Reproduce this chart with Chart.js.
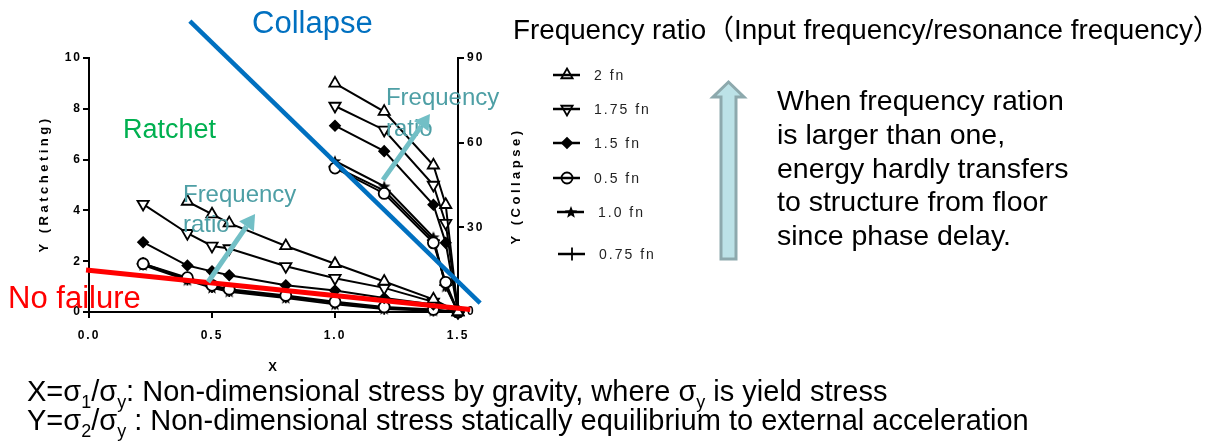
<!DOCTYPE html>
<html lang="en">
<head>
<meta charset="UTF-8">
<title>Ratcheting / Collapse</title>
<script src="https://cdn.jsdelivr.net/npm/chart.js@4"></script>
<style>
  body { margin: 0; background: #fff; }
  canvas { display: block; }
</style>
</head>
<body>
<canvas id="grafico" width="1212" height="445"></canvas>
<script>
// valores
const xRatchet = [0.22, 0.4, 0.5, 0.57, 0.8, 1.0, 1.2, 1.4, 1.5];
const xCollapse = [1.0, 1.2, 1.4, 1.45, 1.5];

const nomes = ['2 fn', '1.75 fn', '1.5 fn', '0.5 fn', '1.0 fn', '0.75 fn'];

// eixo esquerdo (Ratcheting, 0-10)
const ratchet2fn   = [null, 4.35, 3.85, 3.5, 2.6, 1.9, 1.2, 0.5, 0];
const ratchet175fn = [4.25, 3.1, 2.6, 2.5, 1.8, 1.33, 0.95, 0.4, 0];
const ratchet15fn  = [2.75, 1.83, 1.6, 1.45, 1.05, 0.85, 0.55, 0.3, 0];
const ratchet05fn  = [1.9, 1.35, 1.05, 0.9, 0.65, 0.4, 0.2, 0.1, 0];
const ratchet10fn  = [1.85, 1.25, 0.95, 0.8, 0.55, 0.3, 0.12, 0.05, 0];
const ratchet075fn = [1.9, 1.3, 1.0, 0.85, 0.6, 0.35, 0.15, 0.08, 0];

// eixo direito (Collapse, 0-90)
const collapse2fn   = [81, 71, 52, 38, 0];
const collapse175fn = [73, 64.5, 45, 31.5, 0];
const collapse15fn  = [66, 57, 38, 24.5, 0];
const collapse05fn  = [51, 42, 24.5, 10.5, 0];
const collapse10fn  = [53.5, 44.5, 26.5, 9, 0];
const collapse075fn = [51.5, 43, 25.5, 9.5, 0];

const xTicks = [0, 0.5, 1.0, 1.5];
const yTicks = [0, 2, 4, 6, 8, 10];
const y2Ticks = [0, 30, 60, 90];

// linhas de fronteira (coordenadas de dados)
const linhaCollapse = [{x: 0.41, y: 11.45}, {x: 1.59, y: 0.35}];
const linhaNoFailure = [{x: -0.012, y: 1.65}, {x: 1.55, y: 0.1}];

const ratchetSeries = [ratchet2fn, ratchet175fn, ratchet15fn, ratchet05fn, ratchet10fn, ratchet075fn];
const collapseSeries = [collapse2fn, collapse175fn, collapse15fn, collapse05fn, collapse10fn, collapse075fn];

// estrela preenchida para o 1.0 fn
const estrela = document.createElement('canvas');
estrela.width = 14; estrela.height = 14;
(function () {
    const c = estrela.getContext('2d');
    c.fillStyle = '#000';
    c.beginPath();
    for (let k = 0; k < 10; k++) {
        const r = k % 2 == 0 ? 6.5 : 2.8;
        const a = -Math.PI / 2 + k * Math.PI / 5;
        c.lineTo(7 + r * Math.cos(a), 7.5 + r * Math.sin(a));
    }
    c.closePath();
    c.fill();
})();

const marcadores = [
    { style: 'triangle', rot: 0, r: 6.5, fill: '#fff' },
    { style: 'triangle', rot: 180, r: 6.5, fill: '#fff' },
    { style: 'rectRot', rot: 0, r: 5, fill: '#000' },
    { style: 'circle', rot: 0, r: 5.5, fill: '#fff' },
    { style: estrela, rot: 0, r: 6, fill: '#000' },
    { style: 'cross', rot: 0, r: 6.5, fill: '#000' }
];

function pontos(xs, ys) {
    return xs.map((x, i) => ({ x: x, y: ys[i] })).filter(p => p.y !== null);
}

let datasets = [
    { label: 'Collapse', data: linhaCollapse, yAxisID: 'y', borderColor: '#0070C0', borderWidth: 4.5,
      pointRadius: 0, clip: false, order: -2 },
    { label: 'No failure', data: linhaNoFailure, yAxisID: 'y', borderColor: '#FF0000', borderWidth: 5,
      pointRadius: 0, clip: false, order: -2 }
];

for (let i = 0; i < nomes.length; i++) {
    const m = marcadores[i];
    const base = {
        borderColor: '#000', borderWidth: 2, tension: 0,
        pointStyle: m.style, rotation: m.rot, pointRadius: m.r,
        pointBackgroundColor: m.fill, pointBorderColor: '#000', pointBorderWidth: 1.8,
        clip: false
    };
    datasets.push(Object.assign({ label: nomes[i], data: pontos(xRatchet, ratchetSeries[i]), yAxisID: 'y' }, base));
    datasets.push(Object.assign({ label: nomes[i], data: pontos(xCollapse, collapseSeries[i]), yAxisID: 'y2' }, base));
}

const fonte = '"Liberation Sans", Arial, sans-serif';

function seta(ctx, x0, y0, x1, y1, cor, larg, cab) {
    const ang = Math.atan2(y1 - y0, x1 - x0);
    const xb = x1 - Math.cos(ang) * cab, yb = y1 - Math.sin(ang) * cab;
    ctx.strokeStyle = cor; ctx.lineWidth = larg; ctx.lineCap = 'butt';
    ctx.beginPath(); ctx.moveTo(x0, y0); ctx.lineTo(xb, yb); ctx.stroke();
    ctx.fillStyle = cor;
    ctx.beginPath();
    ctx.moveTo(x1, y1);
    ctx.lineTo(xb + Math.sin(ang) * cab * 0.6, yb - Math.cos(ang) * cab * 0.6);
    ctx.lineTo(xb - Math.sin(ang) * cab * 0.6, yb + Math.cos(ang) * cab * 0.6);
    ctx.closePath(); ctx.fill();
}

function textoRico(ctx, partes, x, y, tam) {
    let cx = x;
    for (const [t, sub] of partes) {
        const s = sub ? tam * 0.62 : tam;
        ctx.font = s + 'px ' + fonte;
        ctx.fillText(t, cx, y + (sub ? tam * 0.25 : 0));
        cx += ctx.measureText(t).width;
    }
}

const nota1 = [['X=σ', 0], ['1', 1], ['/σ', 0], ['y', 1], [': Non-dimensional stress by gravity, where σ', 0], ['y', 1], [' is yield stress', 0]];
const nota2 = [['Y=σ', 0], ['2', 1], ['/σ', 0], ['y', 1], [' : Non-dimensional stress statically equilibrium to external acceleration', 0]];
const paragrafo = ['When frequency ration', 'is larger than one,', 'energy hardly transfers', 'to structure from floor', 'since phase delay.'];

const anotacoes = {
    id: 'anotacoes',
    beforeDraw(chart) {
        chart.ctx.letterSpacing = '2px';
    },
    afterDraw(chart) {
        const ctx = chart.ctx;
        const sx = chart.scales.x, sy = chart.scales.y;
        const px = v => sx.getPixelForValue(v);
        const py = v => sy.getPixelForValue(v);
        ctx.save();
        ctx.letterSpacing = '0px';
        ctx.textBaseline = 'alphabetic';
        ctx.textAlign = 'left';

        // textos dentro do grafico
        ctx.font = '27px ' + fonte;
        ctx.fillStyle = '#00B050';
        ctx.fillText('Ratchet', px(0.138), py(6.85));
        ctx.font = '31px ' + fonte;
        ctx.fillStyle = '#FF0000';
        ctx.fillText('No failure', px(-0.329), py(0.16));
        ctx.font = '31px ' + fonte;
        ctx.fillStyle = '#0070C0';
        ctx.fillText('Collapse', px(0.663), py(10.98));

        ctx.font = '24px ' + fonte;
        ctx.fillStyle = '#4E9FA5';
        ctx.fillText('Frequency', px(0.382), py(4.33));
        ctx.fillText('ratio', px(0.382), py(3.15));
        ctx.fillText('Frequency', px(1.207), py(8.15));
        ctx.fillText('ratio', px(1.207), py(6.93));

        seta(ctx, px(0.484), py(1.18), px(0.675), py(3.86), '#72BFC6', 5, 15);
        seta(ctx, px(1.195), py(5.2), px(1.386), py(7.8), '#72BFC6', 5, 15);

        // titulos dos eixos Y
        ctx.font = 'bold 13px ' + fonte;
        ctx.fillStyle = '#000';
        ctx.letterSpacing = '3.5px';
        ctx.textAlign = 'center';
        ctx.textBaseline = 'middle';
        ctx.save(); ctx.translate(44, 184); ctx.rotate(-Math.PI / 2); ctx.fillText('Y (Ratcheting)', 0, 0); ctx.restore();
        ctx.save(); ctx.translate(516, 186); ctx.rotate(-Math.PI / 2); ctx.fillText('Y (Collapse)', 0, 0); ctx.restore();

        // legenda
        const legY = [75, 109, 143, 178, 212, 254];
        const legX = [553, 553, 553, 553, 557, 558];
        ctx.textAlign = 'left';
        ctx.font = '14px ' + fonte;
        ctx.letterSpacing = '2px';
        for (let i = 0; i < nomes.length; i++) {
            const m = marcadores[i];
            ctx.strokeStyle = '#000'; ctx.lineWidth = 2.5;
            ctx.beginPath(); ctx.moveTo(legX[i], legY[i]); ctx.lineTo(legX[i] + 27, legY[i]); ctx.stroke();
            ctx.fillStyle = m.fill == '#fff' ? 'rgba(0,0,0,0)' : '#000';
            ctx.lineWidth = 1.8;
            Chart.helpers.drawPoint(ctx, { pointStyle: m.style, rotation: m.rot, radius: m.r, borderWidth: 1.8 }, legX[i] + 14, legY[i]);
            ctx.fillStyle = '#222';
            ctx.fillText(nomes[i], legX[i] + 41, legY[i] + 1);
        }

        // titulo do quadro a direita
        ctx.letterSpacing = '0px';
        ctx.textBaseline = 'alphabetic';
        ctx.fillStyle = '#000';
        ctx.font = '27.8px ' + fonte + ', "Noto Sans CJK JP"';
        ctx.fillText('Frequency ratio（Input frequency/resonance frequency）', 513, 39);

        // seta grande
        ctx.beginPath();
        ctx.moveTo(728.5, 82); ctx.lineTo(744, 97); ctx.lineTo(736, 97); ctx.lineTo(736, 259);
        ctx.lineTo(721, 259); ctx.lineTo(721, 97); ctx.lineTo(713, 97); ctx.closePath();
        ctx.fillStyle = '#BCE2E7'; ctx.fill();
        ctx.strokeStyle = '#8DA9AD'; ctx.lineWidth = 3; ctx.stroke();

        ctx.fillStyle = '#000';
        ctx.font = '28.5px ' + fonte;
        const baseP = [110, 144, 178, 211, 245];
        paragrafo.forEach((t, i) => ctx.fillText(t, 777, baseP[i]));

        // notas de rodape
        textoRico(ctx, nota1, 27, 401, 29);
        textoRico(ctx, nota2, 27, 430, 29);
        ctx.restore();
    }
};

Chart.defaults.font.family = fonte;
Chart.defaults.color = '#000';

const fmt = (v, d) => Number(v).toFixed(d);

new Chart(document.getElementById('grafico'), {
    type: 'line',
    data: { datasets: datasets },
    options: {
        responsive: false,
        animation: false,
        layout: { padding: { top: 58, right: 704, bottom: 70, left: 0 } },
        plugins: { legend: { display: false }, tooltip: { enabled: false } },
        scales: {
            x: {
                type: 'linear', min: 0, max: 1.5,
                afterBuildTicks: s => { s.ticks = xTicks.map(v => ({ value: v })); },
                afterFit: s => { s.height = 63; },
                ticks: { font: { size: 12, weight: 'bold' }, padding: 10, callback: v => fmt(v, 1), maxRotation: 0 },
                grid: { drawOnChartArea: false, tickLength: 6, color: '#000', lineWidth: 2 },
                border: { color: '#000', width: 2 },
                title: { display: true, text: 'X', font: { size: 13, weight: 'bold' }, padding: 0 }
            },
            y: {
                type: 'linear', position: 'left', min: 0, max: 10,
                afterBuildTicks: s => { s.ticks = yTicks.map(v => ({ value: v })); },
                afterFit: s => { s.width = 89; },
                ticks: { font: { size: 12, weight: 'bold' }, padding: 1, callback: v => fmt(v, 0) },
                grid: { drawOnChartArea: false, tickLength: 6, color: '#000', lineWidth: 2 },
                border: { color: '#000', width: 2 }
            },
            y2: {
                type: 'linear', position: 'right', min: 0, max: 90,
                afterBuildTicks: s => { s.ticks = y2Ticks.map(v => ({ value: v })); },
                afterFit: s => { s.width = 50; },
                ticks: { font: { size: 12, weight: 'bold' }, padding: 3, callback: v => fmt(v, 0) },
                grid: { drawOnChartArea: false, tickLength: 6, color: '#000', lineWidth: 2 },
                border: { color: '#000', width: 2 }
            }
        }
    },
    plugins: [anotacoes]
});
</script>
</body>
</html>
